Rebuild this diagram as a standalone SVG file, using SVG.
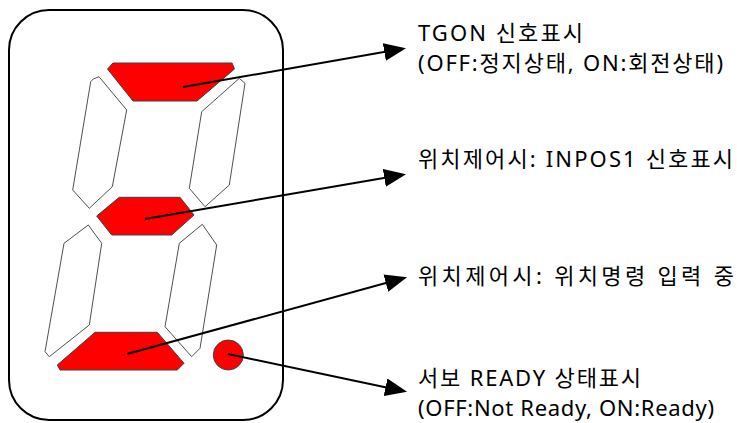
<svg xmlns="http://www.w3.org/2000/svg" width="737" height="423" viewBox="0 0 737 423">
<style>
.on{fill:#ff0000;stroke:#404040;stroke-width:1}
.off{fill:#ffffff;stroke:#505050;stroke-width:1}
.lbl{font-family:"Noto Sans","Noto Sans CJK KR",sans-serif;font-size:22px;fill:#000}
.con{stroke:#000;stroke-width:2;fill:none}
</style>
<defs>
<marker id="arr" viewBox="0 -9 22 18" refX="1" refY="0" markerWidth="22" markerHeight="18" markerUnits="userSpaceOnUse" orient="auto">
<path d="M0,-9 L22,0 L0,9 z" fill="#000"/>
</marker>
</defs>
<rect x="9" y="10" width="274" height="410" rx="40" ry="40" fill="#fff" stroke="#000" stroke-width="2"/>
<g id="seg-a"><polygon class="on" points="113,63 232,63 234.5,69 197,101 133,101 107.5,69"/></g>
<g id="seg-f"><polygon class="off" points="93.3,79 99,76.7 126.7,110 112.3,186.7 89.3,208.3 72.7,190 90.7,81.7"/></g>
<g id="seg-b"><polygon class="off" points="239.3,78.3 245,83.3 229.3,185 205,206.7 189.3,188.3 201.7,111.7"/></g>
<g id="seg-g"><polygon class="on" points="119.3,197.3 180,197.3 194,215 171.7,235 111.7,235 96.7,216"/></g>
<g id="seg-e"><polygon class="off" points="88.3,225 101.7,243.3 89.3,325 49.3,356.7 45,351.7 64,243.3"/></g>
<g id="seg-c"><polygon class="off" points="202.3,224.3 216.7,245 200,348.3 191.7,356.7 165,326.7 179.3,243.3"/></g>
<g id="seg-d"><polygon class="on" points="95,332.3 157.3,332.3 184,363.3 177.3,370 60,370 57.3,365"/></g>
<g id="seg-dp"><circle class="on" cx="228.3" cy="355" r="15"/></g>
<g id="connectors">
<line class="con" x1="183" y1="87" x2="385.3" y2="51.8" marker-end="url(#arr)"/>
<line class="con" x1="145" y1="219" x2="385.3" y2="177.7" marker-end="url(#arr)"/>
<line class="con" x1="127" y1="354" x2="386.8" y2="282.8" marker-end="url(#arr)"/>
<line class="con" x1="228" y1="354" x2="386.5" y2="387.5" marker-end="url(#arr)"/>
</g>
<g id="label-tgon">
<text class="lbl" x="418" y="41" textLength="165">TGON 신호표시</text>
<text class="lbl" x="418" y="71" textLength="305">(OFF:정지상태, ON:회전상태)</text>
</g>
<g id="label-inpos"><text class="lbl" x="418" y="167" textLength="315">위치제어시: INPOS1 신호표시</text></g>
<g id="label-cmd"><text class="lbl" x="418" y="284" textLength="316">위치제어시: 위치명령 입력 중</text></g>
<g id="label-ready">
<text class="lbl" x="418" y="386" textLength="223">서보 READY 상태표시</text>
<text class="lbl" x="418" y="416" textLength="296">(OFF:Not Ready, ON:Ready)</text>
</g>
</svg>
